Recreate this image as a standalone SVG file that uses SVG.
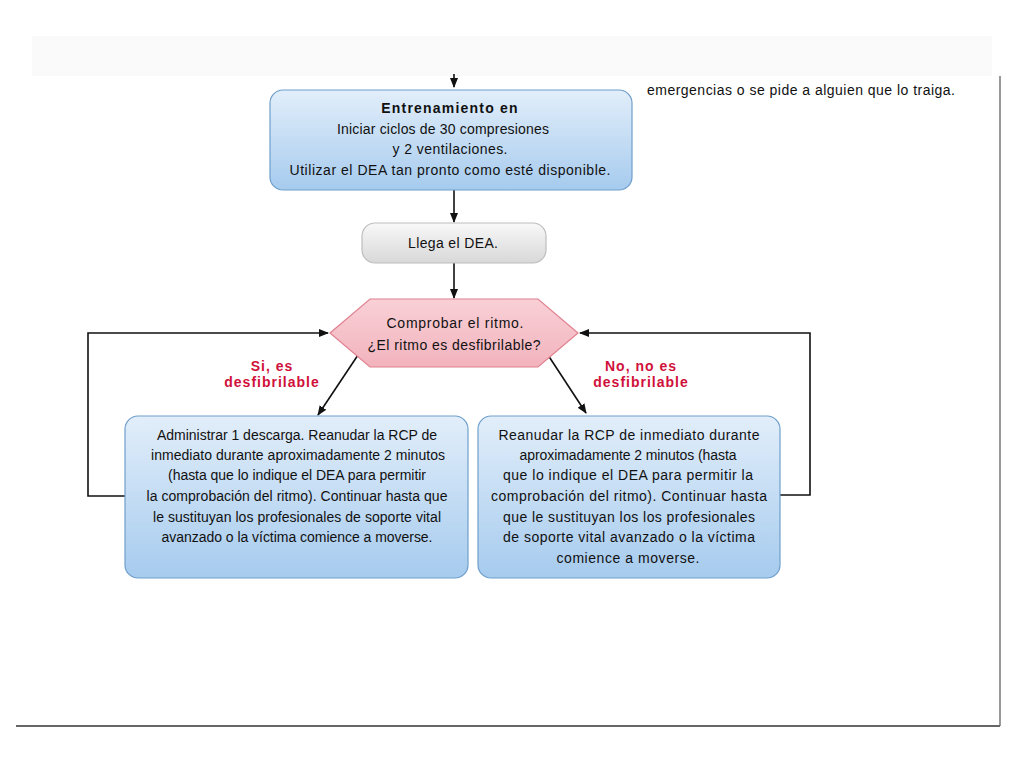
<svg xmlns="http://www.w3.org/2000/svg" width="1024" height="768" viewBox="0 0 1024 768">
<defs>
<linearGradient id="blue" x1="0" y1="0" x2="0" y2="1">
<stop offset="0" stop-color="#e2eefa"/>
<stop offset="1" stop-color="#a6cbee"/>
</linearGradient>
<linearGradient id="gray" x1="0" y1="0" x2="0" y2="1">
<stop offset="0" stop-color="#f8f8f8"/>
<stop offset="1" stop-color="#d8d8d8"/>
</linearGradient>
<linearGradient id="pink" x1="0" y1="0" x2="0" y2="1">
<stop offset="0" stop-color="#f9d0d6"/>
<stop offset="1" stop-color="#f2b3bd"/>
</linearGradient>
<marker id="arr" markerWidth="10" markerHeight="10" refX="9" refY="5" orient="auto" markerUnits="userSpaceOnUse">
<path d="M0,1 L10,5 L0,9 Z" fill="#111"/>
</marker>
<style>
.t{font-family:"Liberation Sans",Arial,sans-serif;font-size:14px;fill:#111;text-anchor:middle}
.b{font-weight:bold;letter-spacing:1.2px}
.r{font-family:"Liberation Sans",Arial,sans-serif;font-size:14px;font-weight:bold;fill:#d0103a;text-anchor:middle;letter-spacing:1px}
.bx{fill:url(#blue);stroke:#6f9fcc;stroke-width:1.2}
.c{fill:none;stroke:#111;stroke-width:1.6}
</style>
</defs>
<rect x="32" y="36" width="960" height="40" fill="#fafafa"/>
<line x1="1000" y1="76" x2="1000" y2="726" stroke="#777" stroke-width="1.5"/>
<line x1="16" y1="726" x2="1000" y2="726" stroke="#666" stroke-width="2"/>
<text x="647" y="95" class="t" style="text-anchor:start" textLength="308">emergencias o se pide a alguien que lo traiga.</text>

<g id="connectors">
<line x1="454" y1="74" x2="454" y2="87" class="c" marker-end="url(#arr)"/>
<line x1="454" y1="190" x2="454" y2="222" class="c" marker-end="url(#arr)"/>
<line x1="454" y1="263" x2="454" y2="298" class="c" marker-end="url(#arr)"/>
<line x1="358" y1="355" x2="318" y2="415" class="c" marker-end="url(#arr)"/>
<line x1="548" y1="355" x2="586" y2="413" class="c" marker-end="url(#arr)"/>
<polyline points="125,496 88,496 88,333 328,333" class="c" marker-end="url(#arr)"/>
<polyline points="780,495 810,495 810,333 580,333" class="c" marker-end="url(#arr)"/>
</g>

<g id="n1">
<rect x="270" y="90" width="362" height="100" rx="13" class="bx"/>
<text x="450" y="113" class="t b">Entrenamiento en</text>
<text x="443" y="134" class="t" textLength="212">Iniciar ciclos de 30 compresiones</text>
<text x="450" y="154" class="t" textLength="115">y 2 ventilaciones.</text>
<text x="450" y="175" class="t" textLength="321">Utilizar el DEA tan pronto como esté disponible.</text>
</g>

<g id="n2">
<rect x="362" y="223" width="184" height="40" rx="13" fill="url(#gray)" stroke="#bdbdbd" stroke-width="1.2"/>
<text x="453" y="248" class="t" textLength="90">Llega el DEA.</text>
</g>

<g id="n3">
<polygon points="330,333 370,299 538,299 578,333 538,367 370,367" fill="url(#pink)" stroke="#e0808f" stroke-width="1.2"/>
<text x="455" y="328" class="t" textLength="137">Comprobar el ritmo.</text>
<text x="454" y="350" class="t" textLength="173">¿El ritmo es desfibrilable?</text>
</g>

<g id="lbl-si">
<text x="272" y="371" class="r">Si, es</text>
<text x="272" y="387" class="r">desfibrilable</text>
</g>
<g id="lbl-no">
<text x="641" y="371" class="r">No, no es</text>
<text x="641" y="387" class="r">desfibrilable</text>
</g>

<g id="n4">
<rect x="125" y="416" width="343" height="162" rx="13" class="bx"/>
<text x="297" y="440" class="t" textLength="280">Administrar 1 descarga. Reanudar la RCP de</text>
<text x="298" y="460" class="t" textLength="294">inmediato durante aproximadamente 2 minutos</text>
<text x="297" y="480" class="t" textLength="258">(hasta que lo indique el DEA para permitir</text>
<text x="297" y="501" class="t" textLength="301">la comprobación del ritmo). Continuar hasta que</text>
<text x="297" y="522" class="t" textLength="288">le sustituyan los profesionales de soporte vital</text>
<text x="297" y="542" class="t" textLength="271">avanzado o la víctima comience a moverse.</text>
</g>

<g id="n5">
<rect x="478" y="416" width="302" height="162" rx="13" class="bx"/>
<text x="629" y="440" class="t" textLength="261">Reanudar la RCP de inmediato durante</text>
<text x="628" y="460" class="t" textLength="217">aproximadamente 2 minutos (hasta</text>
<text x="628" y="480" class="t" textLength="250">que lo indique el DEA para permitir la</text>
<text x="629" y="501" class="t" textLength="276">comprobación del ritmo). Continuar hasta</text>
<text x="629" y="522" class="t" textLength="252">que le sustituyan los los profesionales</text>
<text x="629" y="542" class="t" textLength="252">de soporte vital avanzado o la víctima</text>
<text x="628" y="563" class="t" textLength="143">comience a moverse.</text>
</g>
</svg>
